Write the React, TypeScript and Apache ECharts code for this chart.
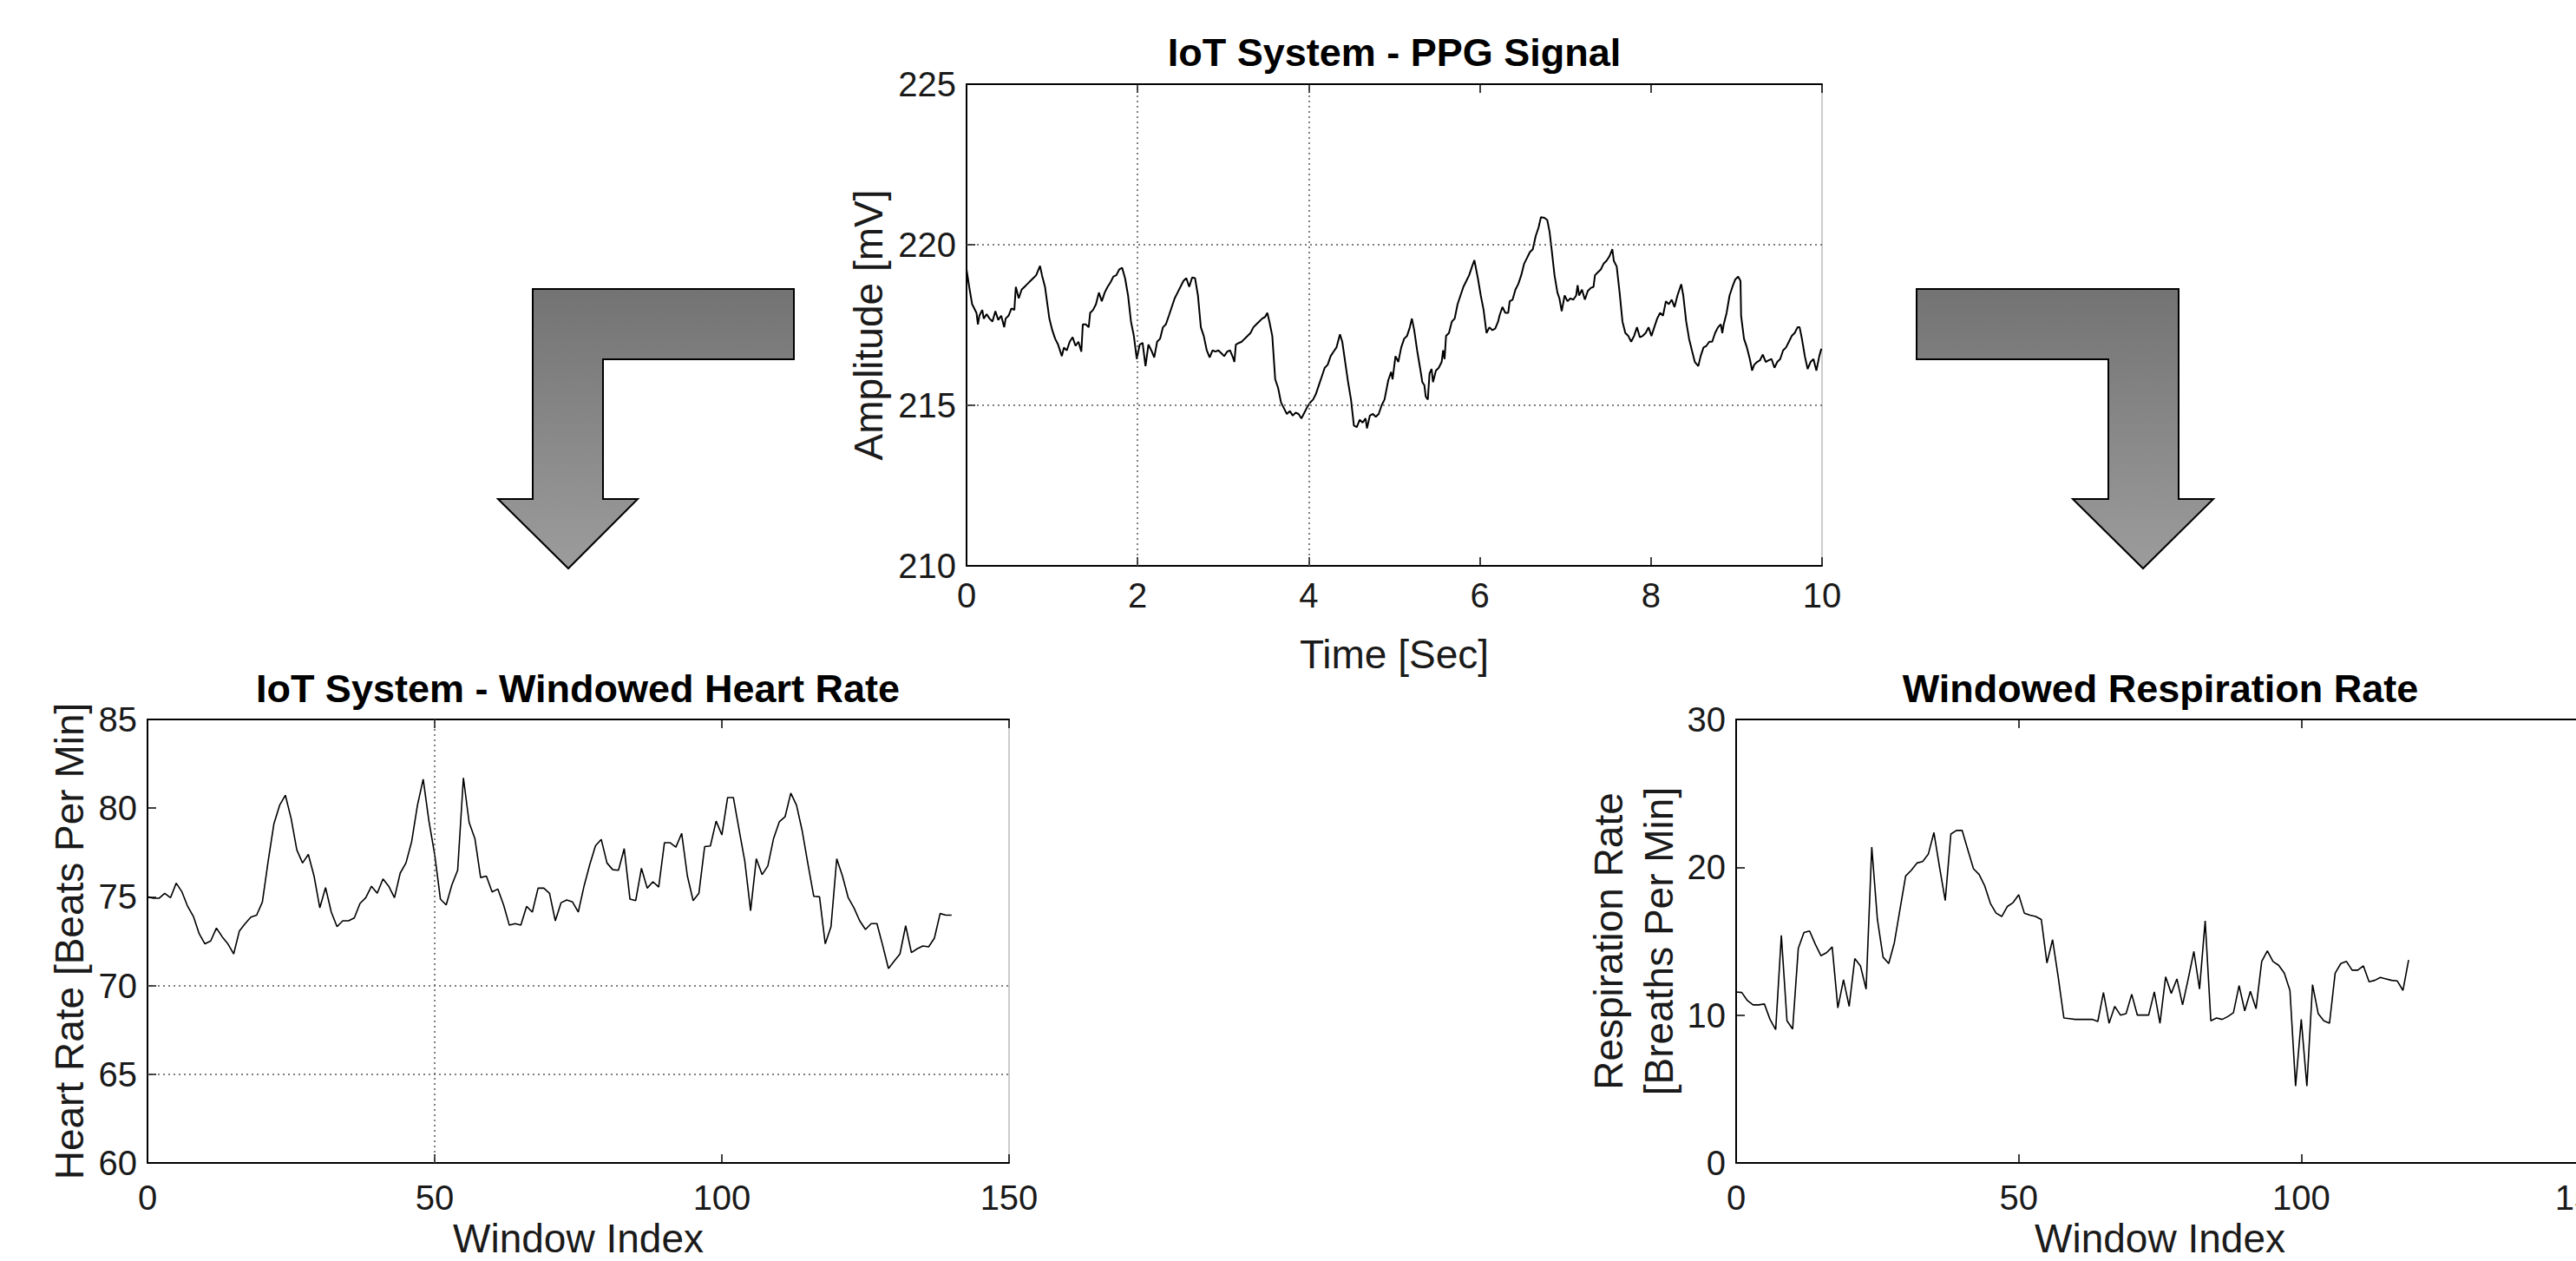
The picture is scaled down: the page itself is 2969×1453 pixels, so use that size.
import React, { useEffect, useRef } from "react";
import * as echarts from "echarts";

// ---------- DATA ----------
const ppgTime = [
  0.000,0.031,0.065,0.082,0.116,0.133,0.150,0.184,0.201,0.235,
  0.269,0.303,0.337,0.371,0.405,0.440,0.457,0.491,0.525,0.559,
  0.576,0.610,0.644,0.678,0.712,0.746,0.780,0.814,0.859,0.882,
  0.917,0.968,1.002,1.036,1.070,1.114,1.138,1.172,1.206,1.240,
  1.274,1.308,1.342,1.359,1.394,1.428,1.445,1.479,1.513,1.547,
  1.581,1.615,1.649,1.683,1.717,1.751,1.785,1.819,1.853,1.888,
  1.922,1.956,1.990,2.024,2.058,2.092,2.126,2.160,2.194,2.228,
  2.262,2.296,2.330,2.365,2.399,2.433,2.467,2.501,2.535,2.569,
  2.603,2.637,2.671,2.705,2.739,2.773,2.808,2.842,2.876,2.910,
  2.944,2.978,3.012,3.046,3.080,3.114,3.131,3.148,3.182,3.216,
  3.250,3.285,3.319,3.353,3.387,3.421,3.455,3.489,3.516,3.540,
  3.574,3.608,3.642,3.676,3.710,3.744,3.779,3.813,3.847,3.881,
  3.915,3.949,3.983,4.017,4.051,4.085,4.119,4.153,4.187,4.221,
  4.256,4.290,4.324,4.365,4.392,4.426,4.460,4.494,4.528,4.562,
  4.596,4.630,4.664,4.681,4.715,4.750,4.784,4.818,4.852,4.886,
  4.929,4.963,4.980,5.014,5.047,5.081,5.115,5.149,5.182,5.206,
  5.233,5.267,5.301,5.328,5.351,5.368,5.392,5.412,5.436,5.453,
  5.487,5.520,5.554,5.571,5.588,5.605,5.639,5.673,5.706,5.740,
  5.774,5.808,5.842,5.875,5.909,5.936,5.977,6.011,6.044,6.078,
  6.112,6.146,6.180,6.214,6.230,6.264,6.298,6.332,6.349,6.383,
  6.416,6.450,6.484,6.518,6.552,6.585,6.619,6.653,6.687,6.714,
  6.755,6.788,6.815,6.839,6.873,6.907,6.930,6.957,6.991,7.025,
  7.059,7.093,7.126,7.143,7.160,7.194,7.228,7.262,7.295,7.329,
  7.346,7.380,7.414,7.447,7.481,7.515,7.549,7.566,7.600,7.634,
  7.667,7.701,7.735,7.769,7.803,7.837,7.870,7.904,7.938,7.972,
  8.006,8.039,8.073,8.107,8.141,8.175,8.209,8.243,8.276,8.310,
  8.354,8.378,8.412,8.446,8.479,8.513,8.554,8.581,8.615,8.648,
  8.682,8.716,8.750,8.784,8.817,8.834,8.851,8.885,8.919,8.953,
  8.986,9.020,9.047,9.054,9.088,9.122,9.156,9.183,9.207,9.241,
  9.274,9.308,9.342,9.376,9.410,9.444,9.477,9.511,9.545,9.579,
  9.613,9.646,9.680,9.714,9.738,9.765,9.799,9.832,9.866,9.900,
  9.934,9.968,9.992,
];

const ppgAmp = [
  219.23,218.69,218.15,218.06,217.88,217.52,217.79,217.97,217.70,217.84,
  217.70,217.61,217.93,217.66,217.79,217.43,217.70,217.79,218.02,217.97,
  218.69,218.33,218.60,218.69,218.78,218.87,218.96,219.05,219.34,219.05,
  218.69,217.70,217.34,217.07,216.89,216.53,216.80,216.71,216.98,217.12,
  216.85,216.98,216.67,217.52,217.52,217.43,217.88,217.97,218.15,218.51,
  218.24,218.51,218.69,218.83,219.01,219.05,219.23,219.28,218.96,218.42,
  217.61,217.16,216.44,216.89,216.94,216.22,216.89,216.71,216.49,216.98,
  217.07,217.43,217.52,217.79,218.06,218.33,218.51,218.69,218.87,218.96,
  218.69,218.98,218.96,218.42,217.43,217.16,216.71,216.49,216.71,216.67,
  216.71,216.62,216.53,216.67,216.71,216.49,216.35,216.89,216.94,216.98,
  217.07,217.16,217.25,217.43,217.52,217.61,217.70,217.75,217.88,217.61,
  217.16,215.81,215.54,215.09,214.91,214.73,214.82,214.68,214.77,214.73,
  214.59,214.77,214.95,215.09,215.18,215.36,215.63,215.90,216.17,216.26,
  216.53,216.67,216.80,217.21,216.98,216.35,215.72,215.18,214.37,214.32,
  214.55,214.46,214.59,214.28,214.68,214.73,214.64,214.73,215.00,215.18,
  215.77,216.04,215.81,216.53,216.35,216.80,217.07,217.16,217.43,217.70,
  217.34,216.71,216.17,215.72,215.63,215.27,215.18,215.99,216.13,215.72,
  216.08,216.17,216.35,216.71,216.44,217.16,217.25,217.61,217.70,218.15,
  218.42,218.69,218.87,219.05,219.32,219.52,218.96,218.42,217.97,217.25,
  217.43,217.34,217.39,217.61,217.79,218.06,217.88,217.88,218.24,218.29,
  218.60,218.78,219.05,219.41,219.59,219.77,219.86,220.27,220.54,220.86,
  220.84,220.77,220.41,219.86,219.05,218.51,218.33,217.93,218.42,218.24,
  218.33,218.29,218.42,218.74,218.42,218.60,218.29,218.56,218.65,218.69,
  219.05,219.14,219.23,219.41,219.50,219.64,219.86,219.50,219.32,218.51,
  217.61,217.25,217.16,216.98,217.16,217.43,217.12,217.16,217.25,217.43,
  217.16,217.43,217.70,217.88,217.79,218.24,218.15,218.29,218.06,218.42,
  218.77,218.42,217.61,217.07,216.71,216.35,216.22,216.53,216.80,216.85,
  216.98,216.98,217.25,217.43,217.52,217.25,217.52,217.88,218.42,218.69,
  218.92,219.01,218.87,217.79,217.07,216.80,216.44,216.08,216.26,216.35,
  216.40,216.58,216.35,216.40,216.44,216.17,216.35,216.44,216.71,216.80,
  216.98,217.16,217.25,217.43,217.43,217.07,216.53,216.13,216.35,216.44,
  216.08,216.53,216.76,
];

const heartRate = [
  75.00,74.92,74.92,75.20,74.95,75.77,75.28,74.46,73.89,72.92,
  72.35,72.51,73.24,72.75,72.35,71.78,73.08,73.49,73.86,73.97,
  74.71,76.99,79.10,80.16,80.73,79.43,77.64,76.91,77.39,76.17,
  74.38,75.52,74.14,73.32,73.65,73.65,73.81,74.63,74.95,75.60,
  75.20,76.01,75.60,74.95,76.34,76.91,78.13,80.16,81.63,79.27,
  77.39,74.87,74.54,75.68,76.50,81.71,79.19,78.29,76.09,76.17,
  75.28,75.44,74.54,73.40,73.49,73.40,74.46,74.14,75.49,75.49,
  75.20,73.65,74.67,74.82,74.71,74.14,75.60,76.82,77.88,78.24,
  76.91,76.53,76.50,77.72,74.87,74.79,76.61,75.49,75.85,75.55,
  78.05,78.05,77.80,78.58,76.17,74.79,75.20,77.83,77.87,79.27,
  78.49,80.60,80.60,78.78,76.99,74.22,77.15,76.25,76.74,78.29,
  79.23,79.51,80.85,80.16,78.70,76.82,75.03,75.00,72.35,73.32,
  77.15,76.17,74.95,74.38,73.65,73.16,73.49,73.49,72.26,70.96,
  71.37,71.78,73.37,71.86,72.07,72.23,72.18,72.67,74.06,73.97,
  73.97,
];

const respRate = [
  11.57,11.53,10.98,10.69,10.69,10.75,9.71,9.02,15.39,9.61,
  9.06,14.51,15.59,15.69,14.80,14.02,14.22,14.61,10.49,12.39,
  10.59,13.82,13.33,11.76,21.37,16.47,13.92,13.49,14.90,17.16,
  19.41,19.80,20.29,20.39,20.88,22.35,20.00,17.75,22.25,22.49,
  22.49,21.18,19.90,19.51,18.73,17.55,16.90,16.67,17.35,17.61,
  18.14,16.90,16.76,16.67,16.47,13.53,15.10,12.55,9.80,9.76,
  9.71,9.71,9.71,9.71,9.57,11.53,9.45,10.59,10.00,10.10,
  11.41,10.00,10.00,10.00,11.57,9.45,12.59,11.47,12.45,10.69,
  12.45,14.31,11.76,16.37,9.61,9.80,9.71,9.90,10.16,12.00,
  10.29,11.61,10.43,13.63,14.35,13.63,13.37,12.84,11.67,5.20,
  9.71,5.20,12.06,10.10,9.61,9.45,12.84,13.49,13.63,13.04,
  13.04,13.33,12.25,12.35,12.55,12.45,12.35,12.31,11.67,13.73,
];

const titles = [
  "IoT System - PPG Signal",
  "IoT System - Windowed Heart Rate",
  "Windowed Respiration Rate",
];

// ---------- STYLE ----------
const FONT = "'Liberation Sans', Arial, Helvetica, sans-serif";
const TEXT = "#1a1a1a";

const axisLineBlack = { show: true, onZero: false, lineStyle: { color: "#000", width: 2 } };
const tickInside = { show: true, inside: true, length: 10, lineStyle: { color: "#000", width: 1.5 } };
const labelStyle = (margin: number) => ({
  show: true,
  fontSize: 40,
  color: TEXT,
  fontFamily: FONT,
  margin,
});
const nameStyle = { fontSize: 46, color: TEXT, fontFamily: FONT };
const gridLine = { color: "#555", type: [2, 4] as any, width: 1.5 };

function xBottom(gridIndex: number, min: number, max: number, interval: number, name: string, nameGap: number, margin: number) {
  return {
    gridIndex, type: "value", position: "bottom", min, max, interval,
    axisLine: axisLineBlack, axisTick: tickInside, axisLabel: labelStyle(margin),
    splitLine: { show: false }, name, nameLocation: "middle", nameGap, nameTextStyle: nameStyle,
  };
}
function xTop(gridIndex: number, min: number, max: number, interval: number) {
  return {
    gridIndex, type: "value", position: "top", min, max, interval,
    axisLine: axisLineBlack, axisTick: tickInside, axisLabel: { show: false },
    splitLine: { show: false },
  };
}
function yLeft(gridIndex: number, min: number, max: number, interval: number, name: string, nameGap: number, extra: any = {}) {
  return {
    gridIndex, type: "value", position: "left", min, max, interval,
    axisLine: axisLineBlack, axisTick: tickInside, axisLabel: labelStyle(12),
    splitLine: { show: false }, name, nameLocation: "middle", nameGap,
    nameTextStyle: { ...nameStyle, ...extra },
  };
}

const arrowFill = () =>
  new echarts.graphic.LinearGradient(0, 0, 0, 1, [
    { offset: 0, color: "#737373" },
    { offset: 1, color: "#9c9c9c" },
  ]);

export default function App() {
  const ref = useRef<HTMLDivElement>(null);

  useEffect(() => {
    if (!ref.current) return;
    const chart = echarts.init(ref.current, null, { renderer: "svg" });

    const gridBase = {
      show: true,
      borderColor: "#9a9a9a",
      borderWidth: 1,
      backgroundColor: "transparent",
      containLabel: false,
      outerBoundsMode: "none",
    };

    const option: any = {
      animation: false,
      backgroundColor: "#fff",
      textStyle: { fontFamily: FONT },
      grid: [
        { ...gridBase, left: 1114, top: 97, width: 986, height: 555 },
        { ...gridBase, left: 170, top: 829, width: 993, height: 511 },
        { ...gridBase, left: 2001, top: 829, width: 977, height: 511 },
      ],
      xAxis: [
        xBottom(0, 0, 10, 2, "Time [Sec]", 79, 14),
        xTop(0, 0, 10, 2),
        xBottom(1, 0, 150, 50, "Window Index", 64, 20),
        xTop(1, 0, 150, 50),
        xBottom(2, 0, 150, 50, "Window Index", 64, 20),
        xTop(2, 0, 150, 50),
      ],
      yAxis: [
        yLeft(0, 210, 225, 5, "Amplitude [mV]", 90),
        yLeft(1, 60, 85, 5, "Heart Rate [Beats Per Min]", 67),
        yLeft(2, 0, 30, 10, "Respiration Rate\n[Breaths Per Min]", 55, { lineHeight: 58 }),
      ],
      series: [
        {
          type: "line",
          xAxisIndex: 0,
          yAxisIndex: 0,
          data: ppgTime.map((t, i) => [t, ppgAmp[i]]),
          symbol: "none",
          lineStyle: { color: "#000", width: 2 },
          markLine: {
            silent: true,
            symbol: ["none", "none"],
            label: { show: false },
            lineStyle: gridLine,
            data: [{ xAxis: 2 }, { xAxis: 4 }, { yAxis: 215 }, { yAxis: 220 }],
          },
          z: 3,
        },
        {
          type: "line",
          xAxisIndex: 2,
          yAxisIndex: 1,
          data: heartRate.map((v, i) => [i, v]),
          symbol: "none",
          lineStyle: { color: "#000", width: 1.6 },
          markLine: {
            silent: true,
            symbol: ["none", "none"],
            label: { show: false },
            lineStyle: gridLine,
            data: [{ xAxis: 50 }, { yAxis: 65 }, { yAxis: 70 }],
          },
          z: 3,
        },
        {
          type: "line",
          xAxisIndex: 4,
          yAxisIndex: 2,
          data: respRate.map((v, i) => [i, v]),
          symbol: "none",
          lineStyle: { color: "#000", width: 1.6 },
          z: 3,
        },
      ],
      graphic: [
        {
          type: "text", x: 1607, y: 60,
          style: { text: titles[0], fontSize: 45, fontWeight: "bold", fontFamily: FONT, fill: "#000", align: "center", verticalAlign: "middle" },
        },
        {
          type: "text", x: 666, y: 793,
          style: { text: titles[1], fontSize: 45, fontWeight: "bold", fontFamily: FONT, fill: "#000", align: "center", verticalAlign: "middle" },
        },
        {
          type: "text", x: 2490, y: 793,
          style: { text: titles[2], fontSize: 45, fontWeight: "bold", fontFamily: FONT, fill: "#000", align: "center", verticalAlign: "middle" },
        },
        {
          type: "polygon",
          shape: { points: [[614, 333], [915, 333], [915, 414], [695, 414], [695, 575], [735, 575], [655, 655], [574, 575], [614, 575]] },
          style: { fill: arrowFill(), stroke: "#000", lineWidth: 2 },
        },
        {
          type: "polygon",
          shape: { points: [[2209, 333], [2511, 333], [2511, 575], [2551, 575], [2470, 655], [2389, 575], [2430, 575], [2430, 414], [2209, 414]] },
          style: { fill: arrowFill(), stroke: "#000", lineWidth: 2 },
        },
      ],
    };

    chart.setOption(option);
    return () => chart.dispose();
  }, []);

  return (
    <div
      ref={ref}
      style={{ position: "absolute", left: 0, top: 0, width: 2969, height: 1453, background: "#fff" }}
    />
  );
}
